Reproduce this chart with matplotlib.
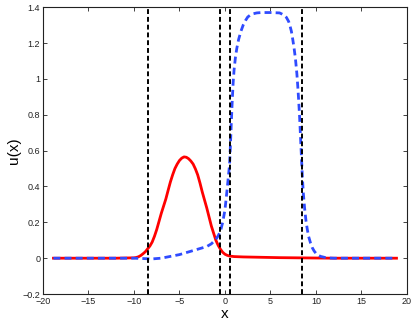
import matplotlib
matplotlib.use("Agg")
import matplotlib.pyplot as plt

plt.rcParams['font.family'] = ['Liberation Sans', 'DejaVu Sans']

# ---- red solid curve ----
x_red = [-18.85, -12, -10, -9.75, -9.5, -9.25, -9, -8.75, -8.5, -8.25, -8,
         -7.75, -7.5, -7.25, -7, -6.75, -6.5, -6.25, -6, -5.75, -5.5, -5.25,
         -5, -4.75, -4.5, -4.25, -4, -3.75, -3.5, -3.25, -3, -2.75, -2.5,
         -2.25, -2, -1.75, -1.5, -1.25, -1, -0.75, -0.5, -0.25, 0, 0.25, 0.5,
         1, 2, 4, 6, 8, 10, 12, 18.85]
y_red = [0, 0, 0.002, 0.004, 0.008, 0.015, 0.025, 0.036, 0.052, 0.068, 0.09,
         0.122, 0.16, 0.205, 0.25, 0.29, 0.33, 0.378, 0.425, 0.465, 0.50,
         0.525, 0.545, 0.558, 0.565, 0.563, 0.555, 0.542, 0.525, 0.498,
         0.465, 0.42, 0.37, 0.325, 0.28, 0.23, 0.18, 0.14, 0.10, 0.072, 0.05,
         0.033, 0.022, 0.016, 0.012, 0.009, 0.007, 0.005, 0.003, 0.002,
         0.001, 0, 0]

# ---- blue dashed curve ----
x_blue = [-18.85, -12, -10, -9, -8, -7, -6, -5, -4, -3, -2, -1.5, -1, -0.75,
          -0.5, -0.25, 0, 0.25, 0.5, 0.6, 0.7, 0.8, 0.9, 1.0, 1.15, 1.3, 1.5,
          1.75, 2.0, 2.25, 2.5, 2.75, 3.0, 3.5, 4.0, 5.0, 6.0, 6.25, 6.5,
          6.75, 7.0, 7.15, 7.3, 7.45, 7.6, 7.75, 7.9, 8.0, 8.1, 8.2, 8.3, 8.4,
          8.5, 8.6, 8.75, 8.9, 9.05, 9.2, 9.4, 9.6, 9.8, 10.0, 10.2, 10.5, 11,
          11.5, 12, 18.85]
y_blue = [0, 0, 0, -0.002, -0.004, 0.0, 0.01, 0.02, 0.035, 0.05, 0.065,
          0.08, 0.105, 0.125, 0.15, 0.20, 0.27, 0.39, 0.52, 0.63, 0.76, 0.88,
          0.98, 1.05, 1.12, 1.17, 1.22, 1.265, 1.30, 1.325, 1.345, 1.355,
          1.362, 1.368, 1.37, 1.37, 1.368, 1.362, 1.355, 1.343, 1.32, 1.295,
          1.265, 1.22, 1.17, 1.11, 1.03, 0.96, 0.88, 0.79, 0.68, 0.57, 0.46,
          0.37, 0.28, 0.21, 0.16, 0.12, 0.085, 0.058, 0.04, 0.027, 0.018,
          0.01, 0.004, 0.001, 0, 0]

# vertical dashed markers
x_marks = [-8.43, -0.58, 0.6, 8.43]

fig = plt.figure(figsize=(4.15, 3.26), dpi=100)
ax = fig.add_axes([0.1036, 0.098, 0.877, 0.880])

ax.plot(x_red, y_red, color='#ff0000', lw=2.0, zorder=2)
ax.plot(x_blue, y_blue, color='#2f4bff', lw=2.0, linestyle='--',
        dashes=(2.5, 1.5), zorder=3)
for xv in x_marks:
    ax.axvline(xv, color='black', lw=1.4, linestyle='--', dashes=(2.5, 1.5),
               zorder=4)

ax.set_xlim(-20, 20)
ax.set_ylim(-0.2, 1.4)
ax.set_xticks(range(-20, 21, 5))
ax.set_yticks([-0.2, 0, 0.2, 0.4, 0.6, 0.8, 1, 1.2, 1.4])
ax.set_yticklabels(['\u22120.2', '0', '0.2', '0.4', '0.6', '0.8', '1', '1.2', '1.4'])
ax.set_xticklabels(['\u221220', '\u221215', '\u221210', '\u22125', '0', '5',
                    '10', '15', '20'])
ax.tick_params(direction='in', top=True, right=True, length=3, width=0.6,
               labelsize=6.5, colors='#222222', pad=2)
for s in ax.spines.values():
    s.set_linewidth(0.8)
    s.set_color('#222222')

ax.set_xlabel('x', fontsize=11, labelpad=1)
ax.set_ylabel('u(x)', fontsize=11, labelpad=1)

fig.savefig('out.png', dpi=100)
